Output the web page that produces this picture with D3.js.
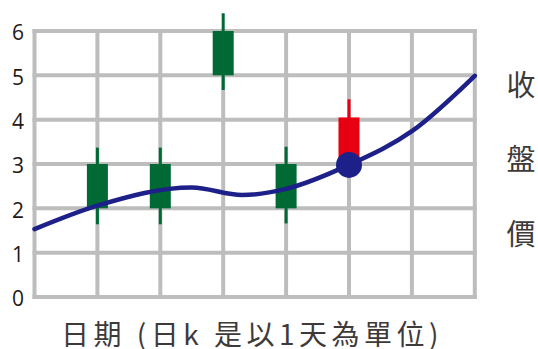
<!DOCTYPE html>
<html>
<head>
<meta charset="utf-8">
<script src="https://cdn.jsdelivr.net/npm/d3@7"></script>
<style>
html,body{margin:0;padding:0;background:#fff;}
svg{display:block;}
</style>
</head>
<body>
<svg id="chart" width="538" height="349"></svg>
<script>
// ---- data ----
const dayTicks = [0, 1, 2, 3, 4, 5, 6, 7];
const priceTicks = [0, 1, 2, 3, 4, 5, 6];
const candleDays = [1, 2, 3, 4, 5];
const candleOpen = [3, 3, 6, 3, 3];
const candleClose = [2, 2, 5, 2, 4.05];
const candleHigh = [3.37, 3.37, 6.4, 3.39, 4.46];
const candleLow = [1.64, 1.64, 4.67, 1.66, 3];
const closeDays = [0, 1, 2.5, 3.3, 4, 5, 6, 7];
const closeValues = [1.53, 2.06, 2.47, 2.3, 2.44, 2.98, 3.74, 4.99];
const markDay = [5];
const markValue = [2.98];
const sideLabel = ["收", "盤", "價"];
const xTitle = "日期 (日k 是以1天為單位)";

// ---- drawing ----
const svg = d3.select("#chart");
const x = d3.scaleLinear().domain([0, 7]).range([34.5, 474.8]);
const y = d3.scaleLinear().domain([0, 6]).range([297, 31]);
const gridColor = "#bdbdbd";
const green = "#006934";
const red = "#e60012";
const navy = "#1d2088";
const textColor = "#3e3a39";

const grid = svg.append("g");
grid.selectAll("line.v").data(dayTicks).join("line")
  .attr("x1", d => x(d)).attr("x2", d => x(d))
  .attr("y1", y(6) - 2).attr("y2", y(0) + 2)
  .attr("stroke", gridColor).attr("stroke-width", 4);
grid.selectAll("line.h").data(priceTicks).join("line")
  .attr("x1", x(0) - 2).attr("x2", x(7) + 2)
  .attr("y1", d => y(d)).attr("y2", d => y(d))
  .attr("stroke", gridColor).attr("stroke-width", 4);

// y axis labels via d3 axis
const yAxis = d3.axisLeft(y).tickValues(priceTicks).tickSize(0).tickPadding(0).tickFormat(d3.format("d"));
const ag = svg.append("g").attr("transform", "translate(18,2)").call(yAxis);
ag.select(".domain").remove();
ag.selectAll("text")
  .attr("text-anchor", "middle")
  .attr("font-family", "'Open Sans', 'Noto Sans', sans-serif")
  .attr("font-size", 21)
  .attr("fill", "#231815");

// candles
const candles = candleDays.map((d, i) => ({day: d, open: candleOpen[i], close: candleClose[i], high: candleHigh[i], low: candleLow[i]}));
const cg = svg.append("g");
cg.selectAll("line").data(candles).join("line")
  .attr("x1", d => x(d.day)).attr("x2", d => x(d.day))
  .attr("y1", d => y(d.high)).attr("y2", d => y(d.low))
  .attr("stroke", d => d.close >= d.open ? red : green).attr("stroke-width", 3);
cg.selectAll("rect").data(candles).join("rect")
  .attr("x", d => x(d.day) - 10.5).attr("width", 21)
  .attr("y", d => y(Math.max(d.open, d.close)))
  .attr("height", d => Math.abs(y(d.open) - y(d.close)))
  .attr("fill", d => d.close >= d.open ? red : green);

// closing price curve
const pts = closeDays.map((d, i) => [d, closeValues[i]]);
const line = d3.line().x(d => x(d[0])).y(d => y(d[1])).curve(d3.curveMonotoneX);
svg.append("path").attr("d", line(pts))
  .attr("fill", "none").attr("stroke", navy).attr("stroke-width", 4.5).attr("stroke-linecap", "round");

svg.selectAll("circle.mark").data(markDay).join("circle")
  .attr("cx", d => x(d)).attr("cy", (d, i) => y(markValue[i])).attr("r", 13)
  .attr("fill", navy);

// side label
const sideY = [83, 157, 232];
svg.selectAll("text.side").data(sideLabel).join("text")
  .attr("x", 521).attr("y", (d, i) => sideY[i])
  .attr("text-anchor", "middle").attr("dominant-baseline", "central")
  .attr("font-family", "'Noto Sans CJK TC', sans-serif").attr("font-size", 29)
  .attr("fill", textColor).text(d => d);

// x title
svg.append("text").attr("x", 252).attr("y", 333)
  .attr("text-anchor", "middle").attr("dominant-baseline", "central")
  .attr("font-family", "'Noto Sans CJK TC', sans-serif").attr("font-size", 28)
  .attr("letter-spacing", 4.5)
  .attr("fill", textColor).text(xTitle);
</script>
</body>
</html>
